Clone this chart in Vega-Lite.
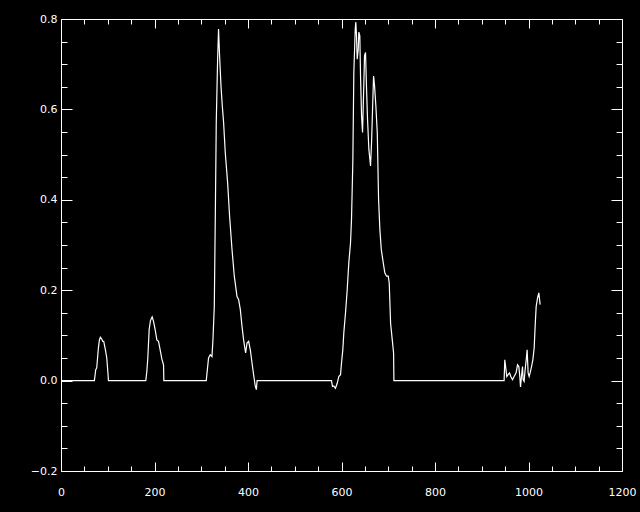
{
  "$schema": "https://vega.github.io/schema/vega-lite/v6.json",
  "autosize": {"type": "none"},
  "padding": {"left": 61, "top": 19, "right": 18, "bottom": 41},
  "width": 561,
  "height": 452,
  "background": "black",
  "config": {
    "view": {"stroke": "white", "strokeWidth": 1, "fill": "black"},
    "axis": {"grid": false, "domain": false, "labelColor": "white", "tickColor": "white", "labelFont": "DejaVu Sans", "labelFontSize": 11, "tickWidth": 1, "title": null}
  },
  "data": {"values": [
    {"x": 0, "y": 0}, {"x": 71.4, "y": 0}, {"x": 74.3, "y": 0.024}, {"x": 76.4, "y": 0.028}, {"x": 80, "y": 0.072}, {"x": 82.1, "y": 0.09}, {"x": 84.3, "y": 0.096}, {"x": 87.1, "y": 0.092}, {"x": 89.3, "y": 0.087}, {"x": 91.4, "y": 0.087}, {"x": 95, "y": 0.068}, {"x": 97.9, "y": 0.05}, {"x": 100.7, "y": 0.013}, {"x": 101.4, "y": 0},
    {"x": 181.4, "y": 0}, {"x": 183.6, "y": 0.02}, {"x": 185.7, "y": 0.05}, {"x": 188.6, "y": 0.113}, {"x": 191.4, "y": 0.133}, {"x": 195, "y": 0.141}, {"x": 197.9, "y": 0.131}, {"x": 201.4, "y": 0.113}, {"x": 205, "y": 0.09}, {"x": 208.6, "y": 0.087}, {"x": 212.1, "y": 0.068}, {"x": 215.7, "y": 0.048}, {"x": 219.3, "y": 0.035}, {"x": 220, "y": 0},
    {"x": 310.7, "y": 0}, {"x": 315.6, "y": 0.05}, {"x": 319.3, "y": 0.057}, {"x": 322.9, "y": 0.053}, {"x": 325, "y": 0.09}, {"x": 327.9, "y": 0.164}, {"x": 330, "y": 0.357}, {"x": 332.1, "y": 0.571}, {"x": 335, "y": 0.711}, {"x": 337, "y": 0.778}, {"x": 339.2, "y": 0.719}, {"x": 342.2, "y": 0.652}, {"x": 345, "y": 0.608}, {"x": 347.8, "y": 0.571}, {"x": 351.4, "y": 0.504}, {"x": 356.4, "y": 0.438}, {"x": 360.6, "y": 0.364}, {"x": 365.8, "y": 0.29}, {"x": 370.7, "y": 0.231}, {"x": 376.5, "y": 0.186}, {"x": 380, "y": 0.179}, {"x": 383.6, "y": 0.157}, {"x": 387.2, "y": 0.12}, {"x": 390.6, "y": 0.09}, {"x": 394.9, "y": 0.061}, {"x": 397.9, "y": 0.083}, {"x": 401.4, "y": 0.087}, {"x": 405, "y": 0.068}, {"x": 408.6, "y": 0.039}, {"x": 412, "y": 0.013}, {"x": 415.7, "y": -0.013}, {"x": 417.9, "y": -0.02}, {"x": 419.4, "y": 0},
    {"x": 578.6, "y": 0}, {"x": 580.7, "y": -0.013}, {"x": 583.5, "y": -0.012}, {"x": 587.1, "y": -0.017}, {"x": 590.8, "y": -0.006}, {"x": 594.2, "y": 0.009}, {"x": 597.9, "y": 0.013}, {"x": 600, "y": 0.039}, {"x": 602.8, "y": 0.068}, {"x": 604.9, "y": 0.105}, {"x": 608.6, "y": 0.15}, {"x": 612.2, "y": 0.201}, {"x": 615.6, "y": 0.26}, {"x": 619.3, "y": 0.305}, {"x": 621.4, "y": 0.357}, {"x": 624.2, "y": 0.482}, {"x": 626.4, "y": 0.682}, {"x": 629.4, "y": 0.778}, {"x": 630.6, "y": 0.793}, {"x": 632.1, "y": 0.763}, {"x": 633.6, "y": 0.711}, {"x": 635.8, "y": 0.733}, {"x": 637.1, "y": 0.771}, {"x": 639.2, "y": 0.763}, {"x": 640.7, "y": 0.674}, {"x": 642.9, "y": 0.586}, {"x": 645, "y": 0.549}, {"x": 647.1, "y": 0.63}, {"x": 649.3, "y": 0.719}, {"x": 651.4, "y": 0.726}, {"x": 653.6, "y": 0.645}, {"x": 655.7, "y": 0.578}, {"x": 658.5, "y": 0.512}, {"x": 662.1, "y": 0.475}, {"x": 664.3, "y": 0.527}, {"x": 666.4, "y": 0.6}, {"x": 668.6, "y": 0.674}, {"x": 670.7, "y": 0.652}, {"x": 673.5, "y": 0.608}, {"x": 676.5, "y": 0.549}, {"x": 679.3, "y": 0.401}, {"x": 682.1, "y": 0.334}, {"x": 685.1, "y": 0.29}, {"x": 689.4, "y": 0.26}, {"x": 692.8, "y": 0.238}, {"x": 696.4, "y": 0.231}, {"x": 700, "y": 0.231}, {"x": 702.1, "y": 0.216}, {"x": 705, "y": 0.127}, {"x": 708.6, "y": 0.09}, {"x": 711.4, "y": 0.061}, {"x": 712.1, "y": 0},
    {"x": 947.8, "y": 0}, {"x": 949.3, "y": 0.046}, {"x": 951.4, "y": 0.028}, {"x": 953.6, "y": 0.009}, {"x": 956.4, "y": 0.013}, {"x": 959.4, "y": 0.017}, {"x": 962.1, "y": 0.009}, {"x": 965.8, "y": 0.002}, {"x": 969.2, "y": 0.009}, {"x": 973.5, "y": 0.017}, {"x": 976.5, "y": 0.035}, {"x": 979.3, "y": 0.031}, {"x": 981.4, "y": 0.009}, {"x": 982.9, "y": -0.014}, {"x": 985, "y": 0.009}, {"x": 987.2, "y": 0.031}, {"x": 988.5, "y": 0.002}, {"x": 990.6, "y": -0.002}, {"x": 992.8, "y": 0.024}, {"x": 995.8, "y": 0.053}, {"x": 997.1, "y": 0.068}, {"x": 999.2, "y": 0.017}, {"x": 1001.4, "y": 0.009}, {"x": 1003.5, "y": 0.017}, {"x": 1006.5, "y": 0.031}, {"x": 1009.3, "y": 0.046}, {"x": 1012.1, "y": 0.072}, {"x": 1014.2, "y": 0.12}, {"x": 1016.4, "y": 0.164}, {"x": 1019.4, "y": 0.183}, {"x": 1022.1, "y": 0.194}, {"x": 1024.9, "y": 0.168}
  ]},
  "resolve": {"axis": {"x": "independent", "y": "independent"}},
  "layer": [
    {
      "mark": {"type": "line", "color": "white", "strokeWidth": 1.2, "interpolate": "linear"},
      "encoding": {
        "x": {"field": "x", "type": "quantitative", "scale": {"domain": [0, 1200], "nice": false, "zero": false},
              "axis": {"orient": "bottom", "ticks": false, "values": [0, 200, 400, 600, 800, 1000, 1200], "format": "d", "labelPadding": 15, "labelFlush": false, "labelOverlap": false}},
        "y": {"field": "y", "type": "quantitative", "scale": {"domain": [-0.2, 0.8], "nice": false, "zero": false},
              "axis": {"orient": "left", "ticks": false, "values": [-0.2, 0, 0.2, 0.4, 0.6, 0.8], "format": ".1f", "labelPadding": 4, "labelFlush": false, "labelOverlap": false}}
      }
    },
    {
      "mark": {"type": "line", "opacity": 0},
      "encoding": {
        "x": {"field": "x", "type": "quantitative", "axis": {"orient": "bottom", "labels": false, "tickSize": -9, "values": [0, 200, 400, 600, 800, 1000, 1200]}},
        "y": {"field": "y", "type": "quantitative", "axis": {"orient": "left", "labels": false, "tickSize": -11, "values": [-0.2, 0, 0.2, 0.4, 0.6, 0.8]}}
      }
    },
    {
      "mark": {"type": "line", "opacity": 0},
      "encoding": {
        "x": {"field": "x", "type": "quantitative", "axis": {"orient": "bottom", "labels": false, "tickSize": -5, "values": [50, 100, 150, 250, 300, 350, 450, 500, 550, 650, 700, 750, 850, 900, 950, 1050, 1100, 1150]}},
        "y": {"field": "y", "type": "quantitative", "axis": {"orient": "left", "labels": false, "tickSize": -6, "values": [-0.15, -0.1, -0.05, 0.05, 0.1, 0.15, 0.25, 0.3, 0.35, 0.45, 0.5, 0.55, 0.65, 0.7, 0.75]}}
      }
    },
    {
      "mark": {"type": "line", "opacity": 0},
      "encoding": {
        "x": {"field": "x", "type": "quantitative", "axis": {"orient": "top", "labels": false, "tickSize": -9, "values": [0, 200, 400, 600, 800, 1000, 1200]}},
        "y": {"field": "y", "type": "quantitative", "axis": {"orient": "right", "labels": false, "tickSize": -11, "values": [-0.2, 0, 0.2, 0.4, 0.6, 0.8]}}
      }
    },
    {
      "mark": {"type": "line", "opacity": 0},
      "encoding": {
        "x": {"field": "x", "type": "quantitative", "axis": {"orient": "top", "labels": false, "tickSize": -5, "values": [50, 100, 150, 250, 300, 350, 450, 500, 550, 650, 700, 750, 850, 900, 950, 1050, 1100, 1150]}},
        "y": {"field": "y", "type": "quantitative", "axis": {"orient": "right", "labels": false, "tickSize": -6, "values": [-0.15, -0.1, -0.05, 0.05, 0.1, 0.15, 0.25, 0.3, 0.35, 0.45, 0.5, 0.55, 0.65, 0.7, 0.75]}}
      }
    }
  ]
}
